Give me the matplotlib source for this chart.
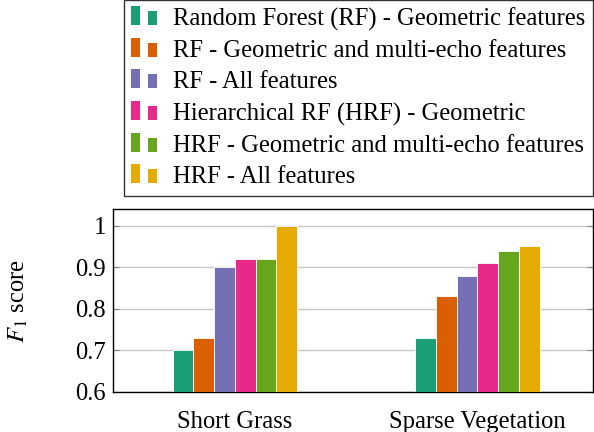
import matplotlib
matplotlib.use("Agg")
import matplotlib.pyplot as plt
import numpy as np
from matplotlib.legend_handler import HandlerBase
from matplotlib.patches import Rectangle

plt.rcParams['font.family'] = ['Liberation Serif', 'DejaVu Serif']
plt.rcParams['mathtext.fontset'] = 'stix'

categories = ['Short Grass', 'Sparse Vegetation']
series = [
    'Random Forest (RF) - Geometric features',
    'RF - Geometric and multi-echo features',
    'RF - All features',
    'Hierarchical RF (HRF) - Geometric',
    'HRF - Geometric and multi-echo features',
    'HRF - All features',
]
scores = [
    [0.70, 0.73],
    [0.73, 0.83],
    [0.90, 0.88],
    [0.92, 0.91],
    [0.92, 0.94],
    [1.00, 0.95],
]
colors = ['#1b9e77', '#d95f02', '#7570b3', '#e7298a', '#66a61e', '#e6ab02']

FS = 17.7


class TwoBarHandler(HandlerBase):
    def create_artists(self, legend, orig_handle, xdescent, ydescent,
                       width, height, fontsize, trans):
        col = orig_handle.get_facecolor()
        bw = width * 0.36
        arts = []
        for x0, h in [(0, height * 1.12), (width * 0.64, height * 0.82)]:
            r = Rectangle((x0 - xdescent, -ydescent), bw, h,
                          facecolor=col, edgecolor='none', transform=trans)
            arts.append(r)
        return arts


fig = plt.figure(figsize=(5.94, 4.32), dpi=100)
ax = fig.add_axes([0.190, 0.093, 0.808, 0.423])

x = np.arange(len(categories))
w = 0.0855
handles = []
for i, (name, vals) in enumerate(zip(series, scores)):
    b = ax.bar(x + (i - 2.5) * w, vals, w, color=colors[i],
               edgecolor='white', linewidth=0.6, label=name, zorder=3)
    handles.append(b.patches[0])

ax.set_xlim(-0.503, 1.476)
ax.set_ylim(0.6, 1.04)
ax.set_yticks([0.6, 0.7, 0.8, 0.9, 1.0])
ax.set_yticklabels(['0.6', '0.7', '0.8', '0.9', '1'])
ax.set_xticks(x)
ax.set_xticklabels(categories)
ax.grid(axis='y', color='#c8c8c8', linewidth=1, zorder=0)
ax.tick_params(axis='y', direction='in', right=True, length=4,
               color='#888888', labelsize=FS, pad=5)
ax.tick_params(axis='x', length=0, labelsize=FS, pad=14)
for s in ax.spines.values():
    s.set_linewidth(1)
ax.set_ylabel('$F_1$ score', fontsize=FS)
ax.yaxis.set_label_coords(-0.172, 0.5)

fig.legend(handles, series, loc='upper left',
           bbox_to_anchor=(124 / 594, 1.0), fontsize=FS,
           handler_map={Rectangle: TwoBarHandler()},
           frameon=True, fancybox=False, edgecolor='#333333',
           framealpha=1, handlelength=1.03, handletextpad=0.66,
           labelspacing=0.37, borderpad=0.3, borderaxespad=0)

fig.savefig('out.png', dpi=100)
